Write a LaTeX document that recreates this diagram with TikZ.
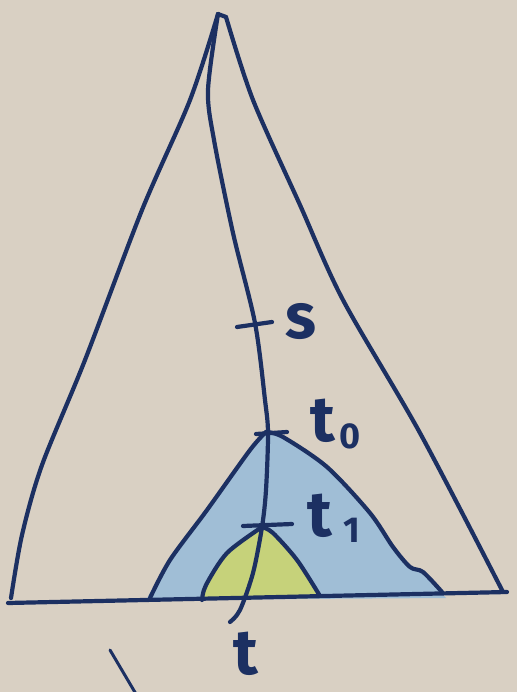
\documentclass[tikz,border=0pt]{standalone}
\usepackage{fontspec}
\setmainfont{Fira Sans}
\definecolor{paper}{RGB}{217,208,195}
\definecolor{ink}{RGB}{28,48,98}
\definecolor{wash}{RGB}{160,190,214}
\definecolor{lime}{RGB}{198,210,122}
\tikzset{
  pen/.style={draw=ink, line width=4.2pt, line cap=round, line join=round},
  thinpen/.style={draw=ink, line width=3pt, line cap=round},
  lbl/.style={text=ink, inner sep=0pt, font=\fontsize{64}{64}\selectfont\bfseries},
  sub/.style={text=ink, inner sep=0pt, font=\fontsize{36}{36}\selectfont\bfseries},
}
\begin{document}
\begin{tikzpicture}[x=1pt,y=-1pt]
\fill[paper] (0,0) rectangle (517,692);
\useasboundingbox (0,0) rectangle (517,692);
% blue wash
\fill[wash] plot[smooth] coordinates {(266,430) (250,450) (207,510) (170,560) (146,600)}
  -- (446,598) -- plot[smooth] coordinates {(443,595) (423,572) (410,566) (393,547) (370,513) (327,467) (283,437) (266,430)} -- cycle;
% green wash
\fill[lime] plot[smooth] coordinates {(262,527) (227,553) (203,590) (201,600)}
  -- (322,598) -- plot[smooth] coordinates {(320,596) (297,560) (273,533) (262,527)} -- cycle;
% big triangle
\draw[pen] plot[smooth] coordinates {(218,14) (190,100) (142,210) (85,360) (42,465) (22,535) (11,598)};
\draw[pen] (218,14) -- (226,17);
\draw[pen] plot[smooth] coordinates {(226,17) (253,100) (300,205) (343,300) (420,433) (503,592)};
\draw[pen] (8,603) -- (507,592);
% main curve
\draw[pen] plot[smooth] coordinates {(218,14) (208,90) (214,140) (233,233) (255,323) (265,400) (268,433) (266,490) (262,527) (253,573) (240,610) (230,622)};
% inner triangles
\draw[pen] plot[smooth] coordinates {(266,432) (250,450) (207,510) (170,560) (150,598)};
\draw[pen] plot[smooth] coordinates {(266,432) (283,437) (327,467) (370,513) (393,547) (410,567) (423,572) (442,592)};
\draw[pen] plot[smooth] coordinates {(262,527) (227,553) (206,585) (202,600)};
\draw[pen] plot[smooth] coordinates {(262,527) (273,533) (297,560) (320,596)};
% ticks
\draw[pen] (237,327) -- (272,322);
\draw[pen] (256,434) -- (287,432);
\draw[pen] (243,526) -- (292,524);
% labels
\node[lbl] (s) at (301,322) {s};
\node[lbl] (t0) at (323,421) {t};
\node[sub] (t0s) at (350,436) {0};
\node[lbl] (t1) at (320,516) {t};
\node[sub] (t1s) at (352,530) {1};
\node[lbl] (t) at (246,654) {t};
% stray stroke
\draw[thinpen] (110,650) -- (136,694);
\end{tikzpicture}
\end{document}
